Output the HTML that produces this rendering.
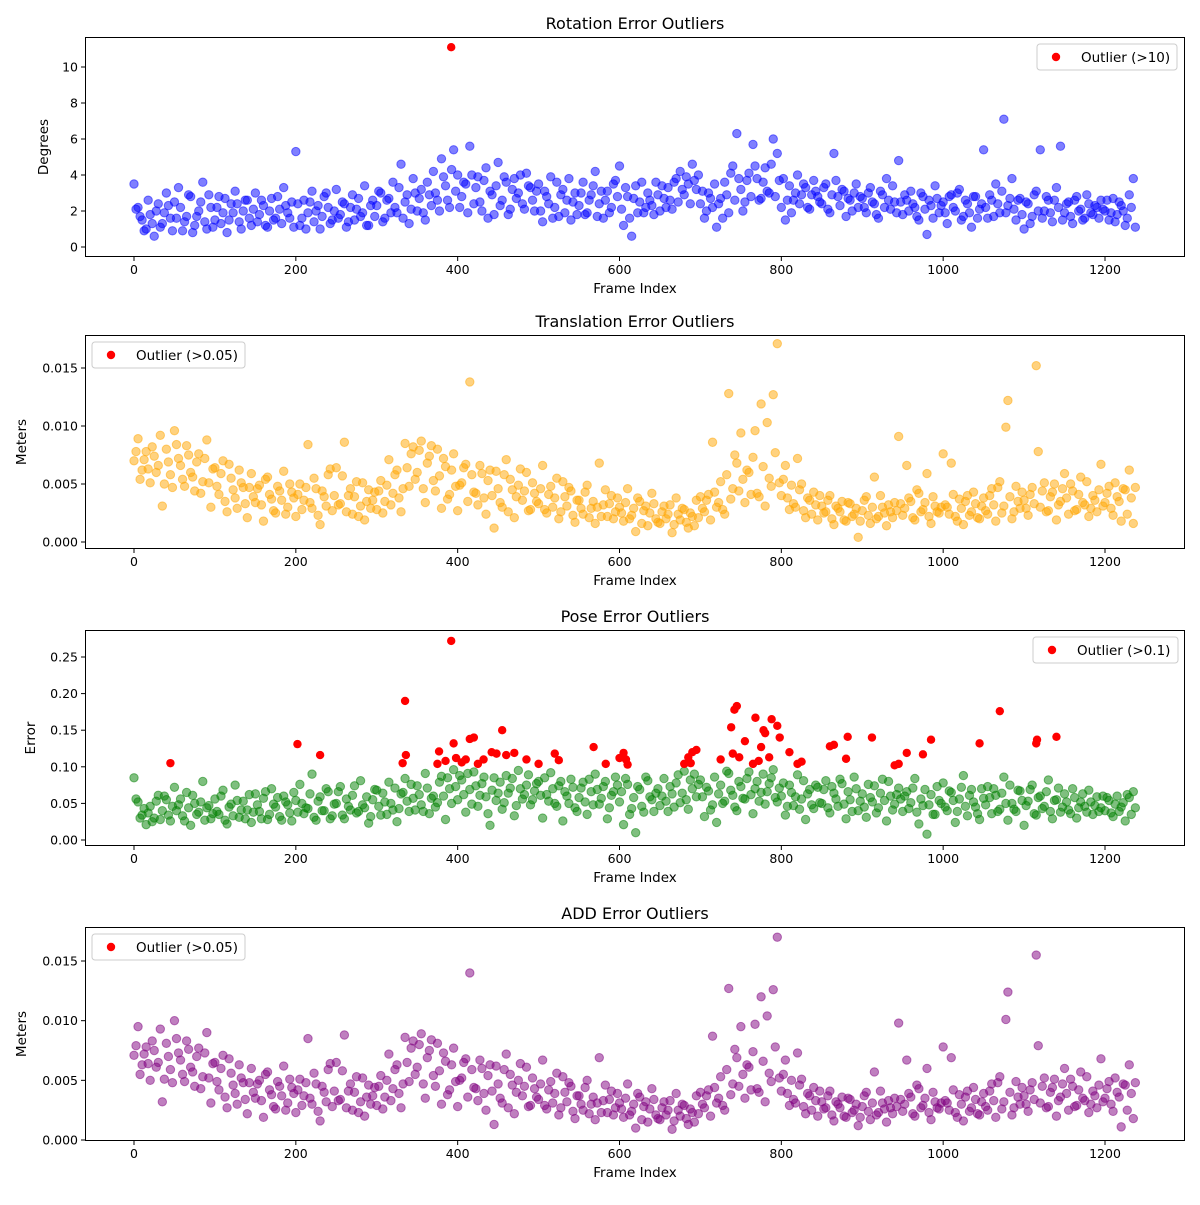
<!DOCTYPE html>
<html><head><meta charset="utf-8"><style>
body{margin:0;background:#fff;font-family:"Liberation Sans","DejaVu Sans",sans-serif}
svg text{font-family:"DejaVu Sans","Liberation Sans",sans-serif;fill:#000}
</style></head><body>
<svg id="chart" width="1200" height="1200" xmlns="http://www.w3.org/2000/svg"></svg>
<script>
// ---------- DATA ----------
const frameStep = 5;
const frameOffsetB = 2.5;
const rotationDegrees = [3.5,2.2,1.5,1.0,1.8,0.6,2.4,1.3,3.0,1.6,2.5,3.3,0.9,1.7,2.8,1.2,2.0,3.6,1.0,2.2,1.5,2.8,1.9,0.8,2.4,3.1,1.4,2.0,2.6,1.2,3.0,1.8,2.3,1.1,2.7,1.6,2.1,3.3,1.9,2.5,5.3,1.2,2.6,1.9,3.1,2.0,1.0,2.8,2.2,1.5,3.2,1.8,2.4,1.4,2.9,2.1,1.7,3.4,1.2,2.6,2.3,3.0,1.6,2.7,3.6,1.9,4.6,2.5,1.3,3.8,2.0,3.2,1.5,2.9,4.2,2.6,4.9,3.4,2.2,5.4,4.0,2.8,3.5,5.6,2.4,3.9,2.0,4.4,3.1,1.8,4.7,2.6,3.6,2.1,3.8,3.0,2.4,4.1,3.3,2.0,3.5,1.4,2.8,3.9,2.2,1.7,3.2,2.6,1.5,3.0,2.3,3.6,1.9,2.9,4.2,2.4,1.6,3.1,2.2,3.7,4.5,1.2,2.8,0.6,3.4,2.5,1.9,3.0,2.3,3.6,2.0,2.7,3.3,2.1,3.8,4.2,2.9,3.5,4.6,3.2,2.4,1.6,3.0,2.2,1.1,2.7,3.6,1.9,4.5,6.3,3.2,2.5,4.1,5.7,3.8,2.7,4.4,3.0,6.0,5.2,2.2,1.5,3.4,2.6,4.0,2.9,3.3,2.1,3.7,2.8,2.4,3.5,1.9,5.2,2.8,3.2,1.7,2.6,3.0,2.2,2.7,1.9,3.3,2.4,1.6,2.9,3.8,2.1,2.5,4.8,1.8,2.6,3.1,2.2,1.5,2.8,0.7,2.3,3.4,1.9,2.5,1.3,2.9,2.0,3.2,1.7,2.4,1.1,2.8,2.1,5.4,1.6,2.6,3.5,1.9,7.1,2.3,3.8,1.5,2.7,1.0,2.4,1.7,3.1,5.4,2.0,2.6,1.4,3.3,5.6,1.9,2.5,1.3,2.8,2.1,1.6,2.4,1.8,2.2,2.6,2.0,1.5,2.7,1.8,2.3,1.2,2.9,3.8];
const rotationDegreesB = [2.1,1.7,0.9,2.6,1.3,2.0,1.1,1.9,2.3,0.9,1.6,2.2,1.4,2.9,0.8,1.7,2.5,1.4,2.9,1.1,2.2,1.3,2.7,1.5,1.9,2.4,1.0,2.6,1.6,2.1,1.4,2.6,1.2,2.0,1.5,2.8,1.3,2.3,1.6,1.1,2.4,1.6,1.0,2.5,1.4,2.3,1.7,3.0,1.3,2.0,1.6,2.5,1.1,2.2,1.5,2.7,1.9,1.2,2.3,1.7,3.1,1.4,2.6,1.9,2.2,3.3,1.6,2.9,2.1,3.0,2.7,1.9,3.6,2.3,3.0,2.0,3.9,2.6,4.3,3.1,2.2,3.6,1.9,4.0,3.3,2.5,3.7,1.6,2.9,3.4,2.3,3.9,1.8,3.2,2.7,4.0,2.1,3.4,2.6,3.1,2.0,3.1,2.4,1.6,3.6,2.9,1.9,3.8,2.5,1.8,3.0,1.8,2.6,3.4,1.7,3.1,2.6,1.9,3.5,2.8,2.1,3.3,1.6,2.7,1.9,3.6,2.2,2.6,1.8,2.9,3.4,2.2,2.6,3.6,2.5,3.2,3.9,2.4,3.7,4.0,3.1,2.0,2.7,3.5,2.4,1.6,2.9,4.1,2.6,3.8,2.0,3.7,2.8,4.5,2.6,3.6,3.1,4.6,2.8,3.7,3.8,2.6,1.9,3.0,2.4,3.5,2.2,2.9,3.1,2.5,3.3,2.1,2.9,3.7,2.3,3.1,2.7,2.0,3.5,2.8,2.2,3.0,2.5,1.8,3.1,2.2,2.6,3.4,1.9,2.5,2.9,2.0,2.4,1.7,3.0,2.1,2.6,1.6,2.7,2.3,1.9,2.8,2.2,3.0,1.5,2.6,1.9,2.8,1.6,2.4,2.2,2.9,1.7,2.4,3.1,1.9,2.7,2.1,2.6,1.8,2.5,1.3,2.9,2.0,1.6,2.8,1.9,2.6,2.2,1.5,2.4,1.7,2.6,2.0,1.5,2.9,1.9,2.3,1.6,2.1,2.6,1.9,1.4,2.5,2.0,1.6,2.2,1.1];
const rotationOutlierFrames = [392];
const rotationOutlierValues = [11.1];
// translation in millimetres (x1e-3 m)
const translationMm = [7.0,8.9,6.2,7.8,5.1,7.4,6.6,3.1,8.0,5.8,9.6,7.2,5.4,8.3,6.0,4.4,7.6,5.2,8.8,3.0,6.4,4.1,7.0,2.6,5.5,3.8,6.2,4.7,2.1,5.9,3.4,4.9,1.8,5.6,3.7,2.5,4.4,6.1,3.0,4.3,2.2,5.0,3.6,8.4,2.9,4.6,1.5,3.9,5.8,2.7,6.4,3.3,8.6,4.0,2.4,5.2,3.1,1.9,4.5,3.6,2.8,5.3,3.5,7.1,4.2,6.2,2.6,8.5,4.8,8.2,6.0,8.7,3.4,7.4,5.3,8.0,2.9,6.5,4.1,7.6,2.7,5.1,6.7,13.8,4.3,3.2,5.9,2.4,6.2,1.2,4.6,3.0,7.1,5.4,2.1,4.9,3.6,6.0,2.8,4.2,3.3,6.6,2.5,4.8,3.8,2.0,5.2,3.1,4.4,1.7,3.6,2.4,4.9,2.9,1.6,6.8,3.2,2.2,4.0,2.6,3.0,1.8,4.6,2.3,0.9,3.5,2.7,1.4,4.2,2.0,1.6,3.1,2.4,0.8,3.8,1.9,2.8,1.2,2.2,3.6,3.9,2.6,4.1,8.6,3.0,5.2,2.4,12.8,4.6,6.8,9.4,3.4,6.0,7.3,4.2,11.9,3.1,5.5,12.7,17.1,4.0,6.6,2.8,3.3,7.2,5.0,2.1,3.6,4.3,1.9,3.1,2.6,4.0,1.5,2.9,3.5,1.8,3.3,2.4,0.4,2.7,3.9,1.6,5.6,2.2,3.0,1.4,2.6,3.4,9.1,2.3,6.6,3.5,1.9,4.2,2.8,5.9,1.6,3.1,2.5,7.6,3.0,6.8,2.2,3.7,1.5,4.0,2.6,3.3,2.0,3.8,2.4,4.6,1.8,5.2,3.1,12.2,2.0,4.8,2.9,3.6,2.3,4.7,15.2,3.0,5.1,2.7,4.3,1.9,3.5,5.9,2.4,4.4,2.8,5.6,3.2,2.2,4.0,2.6,6.7,3.4,4.8,2.3,3.9,1.8,4.5,6.2,1.6];
const translationMmB = [7.8,5.4,7.1,6.3,8.2,6.0,9.2,5.0,6.9,4.7,8.4,6.6,4.8,7.5,5.6,6.9,4.2,7.2,5.1,6.3,4.8,5.9,3.5,6.7,4.5,2.9,5.1,3.3,4.7,3.9,4.6,3.2,5.4,4.1,2.7,4.8,3.6,2.4,5.0,3.8,4.1,2.8,4.7,3.4,5.5,2.3,4.4,3.1,6.3,4.0,3.2,5.7,2.6,4.6,3.9,2.2,5.1,3.5,2.9,4.3,4.4,2.5,4.9,3.2,5.8,3.8,4.6,6.4,7.6,5.4,7.9,4.6,6.8,8.3,4.4,5.7,7.2,3.7,6.2,4.8,4.9,6.4,3.5,5.8,4.2,6.6,3.8,5.3,4.0,6.1,3.4,5.8,2.6,4.5,3.9,6.3,4.4,2.7,5.1,3.5,4.6,2.8,4.1,3.0,5.5,2.6,3.9,4.7,2.3,3.6,2.9,4.3,2.1,3.5,3.0,2.2,4.5,3.3,2.0,3.8,2.5,3.4,2.0,2.9,3.8,1.6,3.1,2.5,3.3,1.7,2.6,2.0,3.2,1.5,2.4,2.9,1.7,2.5,1.4,2.1,2.9,3.6,1.9,4.3,3.4,2.8,5.8,3.7,7.5,4.4,5.4,6.2,4.1,9.6,3.9,6.5,10.3,4.8,7.7,5.1,5.4,3.8,4.9,3.0,4.5,2.7,3.8,2.4,3.2,4.0,2.5,3.6,2.0,3.1,2.6,1.9,3.4,2.2,2.9,1.8,3.6,2.3,3.0,2.0,4.0,2.5,3.2,2.1,2.7,3.3,2.9,3.8,2.1,4.5,2.6,3.4,2.2,3.9,2.6,3.0,3.2,2.4,4.1,1.8,2.9,3.5,2.3,4.3,2.1,3.1,2.7,4.0,3.2,4.7,2.5,9.9,3.9,2.6,3.5,4.3,2.9,4.1,3.3,7.8,4.4,2.6,3.9,5.0,3.2,4.6,3.8,5.0,2.7,4.1,3.4,5.2,2.9,3.6,4.5,3.1,4.2,2.9,5.1,3.5,4.6,2.4,3.8,4.7];
// pose error in hundredths
const poseCenti = [8.5,5.2,3.4,2.1,4.6,3.0,6.1,4.0,5.5,2.6,7.2,4.8,3.3,6.5,2.0,5.0,3.8,8.0,4.4,2.9,5.6,3.5,6.8,2.2,4.9,7.5,3.1,5.3,4.1,2.4,6.3,3.9,5.7,2.8,7.0,4.5,3.2,6.0,4.8,2.6,5.4,7.6,3.6,4.3,9.0,2.7,5.9,4.0,6.6,3.3,5.0,7.3,2.9,4.6,6.1,3.7,8.1,4.4,2.3,5.5,6.8,3.4,5.2,7.9,4.1,2.5,6.3,8.4,3.9,5.7,7.4,4.8,9.1,3.6,6.0,5.1,8.7,2.8,7.0,9.6,5.5,8.2,3.8,6.9,9.3,4.6,7.7,5.9,2.0,8.5,6.4,4.2,8.8,7.1,3.3,9.5,5.6,7.5,4.8,6.7,8.0,3.0,6.2,9.2,5.0,7.4,2.6,6.0,8.3,4.4,5.8,7.9,3.5,6.6,9.0,4.9,7.3,2.9,6.1,8.6,5.2,2.1,7.6,4.3,1.0,6.9,3.8,8.1,5.5,6.4,4.7,8.4,3.9,6.3,7.8,5.1,9.4,4.2,7.0,5.9,8.2,3.2,6.7,4.8,2.4,7.5,5.3,9.1,6.1,4.0,7.3,5.6,9.3,3.6,8.0,6.5,4.9,7.7,9.6,5.2,6.0,3.4,7.5,4.7,8.9,5.6,2.8,6.9,4.3,7.2,5.0,8.1,3.7,6.4,4.6,7.7,2.9,5.5,8.6,4.0,6.3,3.1,5.8,7.4,4.4,8.3,2.6,6.0,4.9,7.1,3.9,6.6,5.1,8.4,2.2,4.7,0.8,6.2,3.5,5.4,7.8,4.0,6.5,2.4,5.6,8.8,3.3,6.9,4.5,2.8,5.7,7.3,3.6,6.1,4.2,8.6,2.7,5.0,3.9,6.7,2.0,5.3,7.5,3.4,6.0,4.6,8.2,2.9,5.5,3.8,6.3,4.1,7.0,3.0,5.2,4.6,6.8,3.5,5.9,4.4,4.0,5.4,3.2,6.0,4.5,2.6,5.8,6.6];
const poseCentiB = [5.6,3.0,4.3,3.7,2.5,5.3,2.8,6.0,3.4,4.6,4.0,5.6,2.6,4.4,6.1,3.5,5.2,2.7,4.7,3.6,3.9,6.0,2.7,4.5,3.3,5.4,4.1,2.9,6.2,3.8,4.8,2.9,6.6,3.5,4.9,5.8,2.7,5.2,3.7,6.5,3.8,5.0,4.4,6.3,3.1,5.3,4.0,7.0,2.9,4.9,6.6,3.4,5.6,4.1,7.4,3.9,4.8,5.9,3.2,6.9,4.6,6.4,3.5,5.0,7.1,4.3,6.5,5.3,7.6,4.1,6.2,3.9,7.1,5.7,4.5,7.9,6.0,8.5,5.0,7.3,8.8,6.2,9.1,4.9,7.4,6.1,8.6,3.6,6.8,5.4,7.9,5.1,6.4,8.4,4.7,7.0,6.2,8.9,5.5,7.7,6.1,8.5,5.3,7.0,4.6,8.0,6.6,5.0,7.2,3.9,7.1,5.2,8.3,4.8,6.9,5.7,8.0,4.4,6.6,7.5,6.6,8.4,3.5,5.8,7.3,4.6,8.6,5.9,3.9,7.0,6.0,5.3,7.3,4.5,8.9,6.4,5.5,8.2,9.0,7.6,5.9,7.2,4.1,8.6,6.3,5.0,9.4,6.8,4.5,8.0,5.7,8.4,6.2,7.0,5.3,9.0,6.6,8.5,5.8,7.1,7.8,4.6,6.5,5.9,4.2,8.1,6.3,4.8,7.5,5.1,6.9,4.4,7.3,5.6,8.3,4.9,6.6,3.9,7.0,5.3,4.5,7.6,5.2,3.7,6.4,5.4,8.0,4.1,6.2,5.6,6.0,4.3,7.1,3.8,5.6,6.9,4.8,3.5,7.3,5.0,4.5,6.7,5.4,3.9,7.2,4.6,6.1,5.2,3.6,7.0,4.8,5.8,7.0,3.9,6.4,5.0,7.5,4.2,6.8,5.4,4.7,6.9,3.6,5.8,4.3,6.6,3.9,5.4,7.1,4.5,5.2,3.6,5.8,4.4,6.3,3.8,5.2,4.7,3.9,6.0,5.8,3.7,4.9,3.9,5.1,6.2,3.5,4.4];
const poseOutlierFrames = [45,202,230,332,335,336,375,377,385,392,395,398,405,410,415,420,425,432,442,448,455,460,470,485,500,520,525,568,583,600,605,608,610,680,685,688,690,695,725,738,740,742,745,748,755,765,768,772,775,778,780,785,788,795,798,810,820,825,860,865,880,882,912,940,945,955,975,985,1045,1070,1115,1116,1140];
const poseOutlierValues = [0.105,0.131,0.116,0.105,0.190,0.116,0.104,0.121,0.108,0.272,0.132,0.112,0.106,0.110,0.138,0.140,0.104,0.110,0.120,0.118,0.150,0.116,0.119,0.110,0.104,0.118,0.109,0.127,0.104,0.112,0.119,0.110,0.103,0.104,0.113,0.105,0.120,0.123,0.110,0.154,0.118,0.178,0.183,0.113,0.135,0.104,0.167,0.108,0.127,0.150,0.146,0.113,0.165,0.156,0.140,0.120,0.104,0.107,0.128,0.130,0.111,0.141,0.140,0.102,0.104,0.119,0.117,0.137,0.132,0.176,0.132,0.137,0.141];
// ADD error in millimetres (x1e-3 m)
const addMm = [7.1,9.5,6.3,7.8,5.0,7.5,6.5,3.2,8.1,5.9,10.0,7.3,5.5,8.3,6.1,4.5,7.7,5.3,9.0,3.1,6.5,4.2,7.1,2.7,5.6,3.9,6.3,4.8,2.2,6.0,3.5,5.0,1.9,5.7,3.8,2.6,4.5,6.2,3.1,4.4,2.3,5.1,3.7,8.5,3.0,4.7,1.6,4.0,5.9,2.8,6.5,3.4,8.8,4.1,2.5,5.3,3.2,2.0,4.6,3.7,2.9,5.4,3.6,7.2,4.3,6.3,2.7,8.6,4.9,8.3,6.1,8.9,3.5,7.5,5.4,8.1,3.0,6.6,4.2,7.7,2.8,5.2,6.8,14.0,4.4,3.3,6.0,2.5,6.3,1.3,4.7,3.1,7.2,5.5,2.2,5.0,3.7,6.1,2.9,4.3,3.4,6.7,2.6,4.9,3.9,2.1,5.3,3.2,4.5,1.8,3.7,2.5,5.0,3.0,1.7,6.9,3.3,2.3,4.1,2.7,3.1,1.9,4.7,2.4,1.0,3.6,2.8,1.5,4.3,2.1,1.7,3.2,2.5,0.9,3.9,2.0,2.9,1.3,2.3,3.7,4.0,2.7,4.2,8.7,3.1,5.3,2.5,12.7,4.7,6.9,9.5,3.5,6.1,7.4,4.3,12.0,3.2,5.6,12.6,17.0,4.1,6.7,2.9,3.4,7.3,5.1,2.2,3.7,4.4,2.0,3.2,2.7,4.1,1.6,3.0,3.6,1.9,3.4,2.5,1.2,2.8,4.0,1.7,5.7,2.3,3.1,1.5,2.7,3.5,9.8,2.4,6.7,3.6,2.0,4.3,2.9,6.0,1.7,3.2,2.6,7.8,3.1,6.9,2.3,3.8,1.6,4.1,2.7,3.4,2.1,3.9,2.5,4.7,1.9,5.3,3.2,12.4,2.1,4.9,3.0,3.7,2.4,4.8,15.5,3.1,5.2,2.8,4.4,2.0,3.6,6.0,2.5,4.5,2.9,5.7,3.3,2.3,4.1,2.7,6.8,3.5,4.9,2.4,4.0,1.1,4.6,6.3,1.8];
const addMmB = [7.9,5.5,7.2,6.4,8.3,6.1,9.3,5.1,7.0,4.8,8.5,6.7,4.9,7.6,5.7,7.0,4.3,7.3,5.2,6.4,4.9,6.0,3.6,6.8,4.6,3.0,5.2,3.4,4.8,4.0,4.7,3.3,5.5,4.2,2.8,4.9,3.7,2.5,5.1,3.9,4.2,2.9,4.8,3.5,5.6,2.4,4.5,3.2,6.4,4.1,3.3,5.8,2.7,4.7,4.0,2.3,5.2,3.6,3.0,4.4,4.5,2.6,5.0,3.3,5.9,3.9,4.7,6.5,7.7,5.5,8.0,4.7,6.9,8.4,4.5,5.8,7.3,3.8,6.3,4.9,5.0,6.5,3.6,5.9,4.3,6.7,3.9,5.4,4.1,6.2,3.5,5.9,2.7,4.6,4.0,6.4,4.5,2.8,5.2,3.6,4.7,2.9,4.2,3.1,5.6,2.7,4.0,4.8,2.4,3.7,3.0,4.4,2.2,3.6,3.1,2.3,4.6,3.4,2.1,3.9,2.6,3.5,2.1,3.0,3.9,1.7,3.2,2.6,3.4,1.8,2.7,2.1,3.3,1.6,2.5,3.0,1.8,2.6,1.5,2.2,3.0,3.7,2.0,4.4,3.5,2.9,5.9,3.8,7.6,4.5,5.5,6.3,4.2,9.7,4.0,6.6,10.4,4.9,7.8,5.2,5.5,3.9,5.0,3.1,4.6,2.8,3.9,2.5,3.3,4.1,2.6,3.7,2.1,3.2,2.7,2.0,3.5,2.3,3.0,1.9,3.7,2.4,3.1,2.1,4.1,2.6,3.3,2.2,2.8,3.4,3.0,3.9,2.2,4.6,2.7,3.5,2.3,4.0,2.7,3.1,3.3,2.5,4.2,1.9,3.0,3.6,2.4,4.4,2.2,3.2,2.8,4.1,3.3,4.8,2.6,10.1,4.0,2.7,3.6,4.4,3.0,4.2,3.4,7.9,4.5,2.7,4.0,5.1,3.3,4.7,3.9,5.1,2.8,4.2,3.5,5.3,3.0,3.7,4.6,3.2,4.3,3.0,5.2,3.6,4.7,2.5,3.9,4.8];
const xTicks = [0,200,400,600,800,1000,1200];

// ---------- AXES ----------
const svg = document.getElementById('chart');
const NS = 'http://www.w3.org/2000/svg';
const AX_L = 85, AX_R = 1185;
function xScale(v){ return 134 + v * (971/1200); }
function mk(tag, attrs, parent){ const e = document.createElementNS(NS, tag); for (const k in attrs) e.setAttribute(k, attrs[k]); (parent||svg).appendChild(e); return e; }

const panels = [
  {key:'rotation', title:'Rotation Error Outliers', top:37, bottom:257, y0:247, ppu:18, ylab:'Degrees', yticks:[0,2,4,6,8,10], fmt:v=>String(v), color:'#0000ff',
   vals:rotationDegrees, valsB:rotationDegreesB, scale:1, ox:rotationOutlierFrames, oy:rotationOutlierValues, legend:'Outlier (>10)', lx:1037, lw:140},
  {key:'translation', title:'Translation Error Outliers', top:335, bottom:549, y0:542, ppu:11600, ylab:'Meters', yticks:[0,0.005,0.01,0.015], fmt:v=>v.toFixed(3), color:'#ffa500',
   vals:translationMm, valsB:translationMmB, scale:0.001, ox:[], oy:[], legend:'Outlier (>0.05)', lx:92, lw:153},
  {key:'pose', title:'Pose Error Outliers', top:630, bottom:846, y0:840, ppu:732, ylab:'Error', yticks:[0,0.05,0.1,0.15,0.2,0.25], fmt:v=>v.toFixed(2), color:'#008000',
   vals:poseCenti, valsB:poseCentiB, scale:0.01, ox:poseOutlierFrames, oy:poseOutlierValues, legend:'Outlier (>0.1)', lx:1033, lw:145},
  {key:'add', title:'ADD Error Outliers', top:927, bottom:1141, y0:1140, ppu:11933, ylab:'Meters', yticks:[0,0.005,0.01,0.015], fmt:v=>v.toFixed(3), color:'#800080',
   vals:addMm, valsB:addMmB, scale:0.001, ox:[], oy:[], legend:'Outlier (>0.05)', lx:92, lw:153}
];

panels.forEach(p => {
  const g = mk('g', {});
  
  
  const yS = v => p.y0 - v * p.ppu;
  const clipId = 'clip-' + p.key;
  const cp = mk('clipPath', {id: clipId}, g);
  mk('rect', {x: AX_L, y: p.top, width: AX_R - AX_L, height: p.bottom - p.top}, cp);
  const pts = mk('g', {'clip-path': 'url(#' + clipId + ')'}, g);
  p.vals.forEach((v, i) => {
    const c = mk('circle', {cx: xScale(i * frameStep), cy: yS(v * p.scale), r: 4.2, fill: p.color, 'fill-opacity': 0.5, stroke: p.color, 'stroke-opacity': 0.5, 'stroke-width': 1}, pts);
    
    
  });
  p.valsB.forEach((v, i) => {
    const c = mk('circle', {cx: xScale(i * frameStep + frameOffsetB), cy: yS(v * p.scale), r: 4.2, fill: p.color, 'fill-opacity': 0.5, stroke: p.color, 'stroke-opacity': 0.5, 'stroke-width': 1}, pts);
    
    
  });
  p.ox.forEach((f, i) => {
    const c = mk('circle', {cx: xScale(f), cy: yS(p.oy[i]), r: 4.2, fill: '#ff0000'}, pts);
    
    
  });
  const frame = mk('rect', {x: AX_L + 0.5, y: p.top + 0.5, width: AX_R - AX_L - 1, height: p.bottom - p.top - 1, fill: 'none', stroke: '#000', 'stroke-width': 1}, g);
  
  
  xTicks.forEach(t => {
    const x = xScale(t);
    mk('line', {x1: x, x2: x, y1: p.bottom, y2: p.bottom + 4, stroke: '#000'}, g);
    const tx = mk('text', {x: x, y: p.bottom + 17, 'font-size': 12.5, 'text-anchor': 'middle'}, g);
    tx.textContent = t;
    
    
  });
  p.yticks.forEach(t => {
    const y = yS(t);
    mk('line', {x1: AX_L - 4, x2: AX_L, y1: y, y2: y, stroke: '#000'}, g);
    const tx = mk('text', {x: AX_L - 7, y: y + 4.5, 'font-size': 12.5, 'text-anchor': 'end'}, g);
    tx.textContent = p.fmt(t);
    
    
  });
  const tt = mk('text', {x: 635, y: p.top - 8, 'font-size': 16, 'text-anchor': 'middle'}, g);
  tt.textContent = p.title;
  
  
  const xl = mk('text', {x: 635, y: p.bottom + 36, 'font-size': 13.5, 'text-anchor': 'middle'}, g);
  xl.textContent = 'Frame Index';
  
  
  const yc = (p.top + p.bottom) / 2;
  const lx = p.key === 'pose' ? 35 : (p.key === 'rotation' ? 48 : 26);
  const yl = mk('text', {x: lx, y: yc, 'font-size': 13.5, 'text-anchor': 'middle', transform: 'rotate(-90 ' + lx + ' ' + yc + ')'}, g);
  yl.textContent = p.ylab;
  
  
  const ly = p.top + 7;
  const lg = mk('g', {}, g);
  
  
  mk('rect', {x: p.lx, y: ly, width: p.lw, height: 26, rx: 3, fill: '#fff', 'fill-opacity': 0.8, stroke: '#ccc'}, lg);
  mk('circle', {cx: p.lx + 19, cy: ly + 13, r: 4.2, fill: '#ff0000'}, lg);
  const lt = mk('text', {x: p.lx + 44, y: ly + 18, 'font-size': 13.5}, lg);
  lt.textContent = p.legend;
});
</script>
</body></html>
